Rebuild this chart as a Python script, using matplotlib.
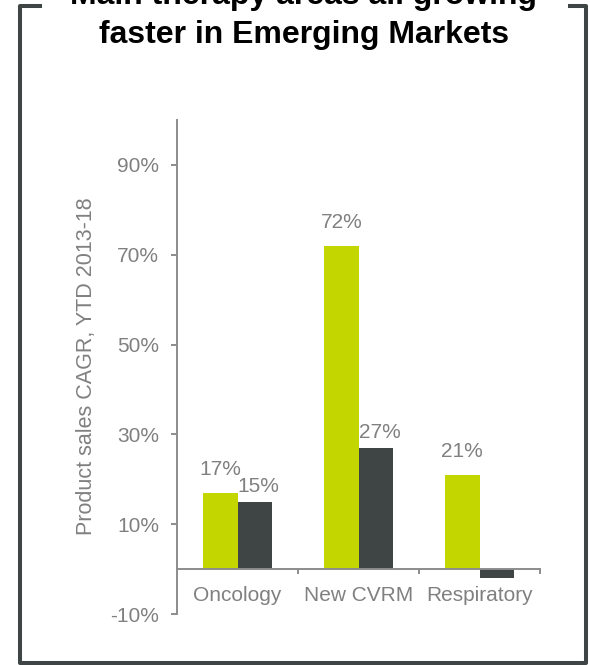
import matplotlib
matplotlib.use("Agg")
import matplotlib.pyplot as plt
from matplotlib.lines import Line2D
import numpy as np

plt.rcParams["font.family"] = ["Liberation Sans", "DejaVu Sans"]

categories = ["Oncology", "New CVRM", "Respiratory"]
series_a = [17, 72, 21]   # light green bars
series_b = [15, 27, -2]   # dark bars
labels_a = ["17%", "72%", "21%"]
labels_b = ["15%", "27%", ""]
y_ticks = [-10, 10, 30, 50, 70, 90]

GREEN = "#C4D600"
DARK = "#3F4444"
GREY_TXT = "#808080"
GREY_AX = "#8C8C8C"

W, H = 590, 665
fig = plt.figure(figsize=(W / 100, H / 100), dpi=100)
ax = fig.add_axes([177 / W, (H - 614) / H, 363 / W, 494 / H])

x = np.arange(len(categories)) + 0.5
bw = 0.285
ax.bar(x - bw / 2, series_a, width=bw, color=GREEN, zorder=2)
ax.bar(x + bw / 2, series_b, width=bw, color=DARK, zorder=2)

for xi, v, lab in zip(x, series_a, labels_a):
    ax.annotate(lab, (xi - bw / 2, v), xytext=(0, 14), textcoords="offset pixels",
                ha="center", va="bottom", fontsize=15, color=GREY_TXT)
for xi, v, lab in zip(x, series_b, labels_b):
    if lab:
        ax.annotate(lab, (xi + bw / 2, v), xytext=(4, 6), textcoords="offset pixels",
                    ha="center", va="bottom", fontsize=15, color=GREY_TXT)

ax.set_xlim(0, 3)
ax.set_ylim(-10, 100)

for s in ["top", "right"]:
    ax.spines[s].set_visible(False)
ax.spines["bottom"].set_position(("data", 0))
ax.spines["bottom"].set_color(GREY_AX)
ax.spines["left"].set_color(GREY_AX)
ax.spines["bottom"].set_linewidth(1.4)
ax.spines["left"].set_linewidth(1.4)
ax.spines["bottom"].set_zorder(3)

ax.set_yticks(y_ticks)
ax.set_yticklabels([f"{t}%" for t in y_ticks])
ax.tick_params(axis="y", direction="out", length=4.3, width=1.4, color=GREY_AX,
               labelsize=15, labelcolor=GREY_TXT, pad=8.5)

ax.set_xticks([1, 2, 3])
ax.set_xticklabels([])
ax.set_xticks(x, minor=True)
ax.set_xticklabels(categories, minor=True)
ax.tick_params(axis="x", which="major", direction="out", length=3.6, width=1.4, color=GREY_AX)
ax.tick_params(axis="x", which="minor", length=0, labelsize=15, labelcolor=GREY_TXT, pad=12.5)

fig.text(87 / W, 1 - 366 / H, "Product sales CAGR, YTD 2013-18", rotation=90,
         ha="center", va="center", fontsize=15.5, color=GREY_TXT)

# title (first line cut by the top edge, as in the source)
fig.text(304 / W, 1 - 4 / H, "Main therapy areas all growing", ha="center", va="baseline",
         fontsize=23, fontweight="bold", color="black")
fig.text(304 / W, 1 - 42.5 / H, "faster in Emerging Markets", ha="center", va="baseline",
         fontsize=23, fontweight="bold", color="black")

# frame around the chart, open at the top for the title
def px_line(xs, ys):
    fig.add_artist(Line2D([v / W for v in xs], [1 - v / H for v in ys],
                          transform=fig.transFigure, color=DARK, lw=2.9,
                          solid_capstyle="projecting"))

px_line([40, 20, 20, 586, 586, 570], [6, 6, 663, 663, 6, 6])

fig.savefig("out.png", dpi=100)
